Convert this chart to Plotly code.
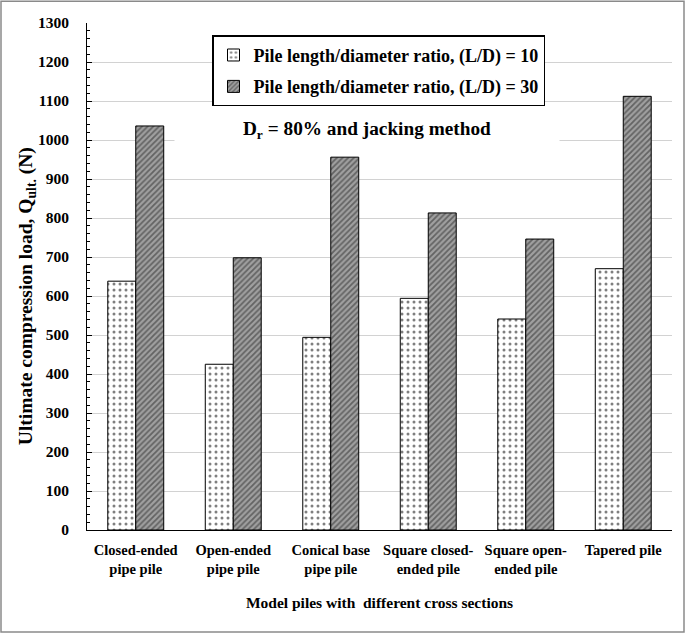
import plotly.graph_objects as go

categories = ["Closed-ended<br>pipe pile", "Open-ended<br>pipe pile", "Conical base<br>pipe pile",
              "Square closed-<br>ended pile", "Square open-<br>ended pile", "Tapered pile"]
ld10 = [638, 425, 494, 594, 541, 670]
ld30 = [1036, 698, 956, 813, 746, 1112]
series_names = ["Pile length/diameter ratio, (L/D) = 10", "Pile length/diameter ratio, (L/D) = 30"]
y_ticks = list(range(0, 1301, 100))

FONT = "Liberation Serif"

fig = go.Figure()
fig.add_trace(go.Bar(
    x=categories, y=ld10, name=series_names[0], legendgroup="a",
    marker=dict(color="white", line=dict(color="black", width=1),
                pattern=dict(shape=".", fgcolor="black", bgcolor="white", size=6, solidity=0.2)),
))
fig.add_trace(go.Bar(
    x=categories, y=ld30, name=series_names[1], legendgroup="b",
    marker=dict(color="#999999", line=dict(color="black", width=1),
                pattern=dict(shape="/", fgcolor="#262626", bgcolor="#a0a0a0", size=4, solidity=0.45)),
))

fig.update_layout(
    width=685, height=633,
    margin=dict(l=87, r=13, t=23, b=103),
    paper_bgcolor="white", plot_bgcolor="white",
    font=dict(family=FONT, size=15, color="black", weight="bold"),
    barmode="group", bargap=0.426, bargroupgap=0,
    showlegend=True,
    legend=dict(x=(212 - 87) / 585, y=(530 - 35) / 507.3, xanchor="left", yanchor="top",
                bordercolor="black", borderwidth=1.5, bgcolor="white",
                font=dict(family=FONT, size=18, weight="bold"),
                traceorder="grouped", tracegroupgap=5, itemwidth=30),
    xaxis=dict(showline=True, linecolor="black", linewidth=1, ticks="",
               tickfont=dict(family=FONT, size=14.5, weight="bold"), ticklabelstandoff=7,
               title=dict(text="Model piles with  different cross sections",
                          font=dict(family=FONT, size=15.5, weight="bold"), standoff=20)),
    yaxis=dict(range=[0, 1300], tickvals=y_ticks, showline=True, linecolor="black", linewidth=1,
               ticks="inside", ticklen=5, tickcolor="black",
               minor=dict(dtick=20, ticks="inside", ticklen=3, tickcolor="black", showgrid=False),
               showgrid=True, gridcolor="#d2d2d2", gridwidth=1, zeroline=False,
               tickfont=dict(family=FONT, size=15.5, weight="bold"), ticklabelstandoff=14),
    annotations=[
        dict(text="D<sub>r</sub> = 80% and jacking method", xref="paper", yref="paper",
             x=(367 - 87) / 585, y=(530 - 130) / 507.3, xanchor="center", yanchor="middle",
             showarrow=False, bgcolor="white", width=382, height=34,
             font=dict(family=FONT, size=19.3, weight="bold")),
        dict(text="Ultimate compression load, Q<sub>ult.</sub> (N)", xref="paper", yref="paper",
             x=(27 - 87) / 585, y=(530 - 296) / 507.3, xanchor="center", yanchor="middle",
             textangle=-90, showarrow=False,
             font=dict(family=FONT, size=19.5, weight="bold")),
    ],
    shapes=[dict(type="rect", xref="paper", yref="paper",
                 x0=(1 - 87) / 585, x1=(684 - 87) / 585,
                 y0=(530 - 632) / 507.3, y1=(530 - 1) / 507.3,
                 line=dict(color="#8a8a8a", width=1.5), fillcolor="rgba(0,0,0,0)", layer="above")],
)

fig.write_html("out.html", config={"displayModeBar": False},
               post_script="document.body.style.margin='0px';document.body.style.overflow='hidden';")
